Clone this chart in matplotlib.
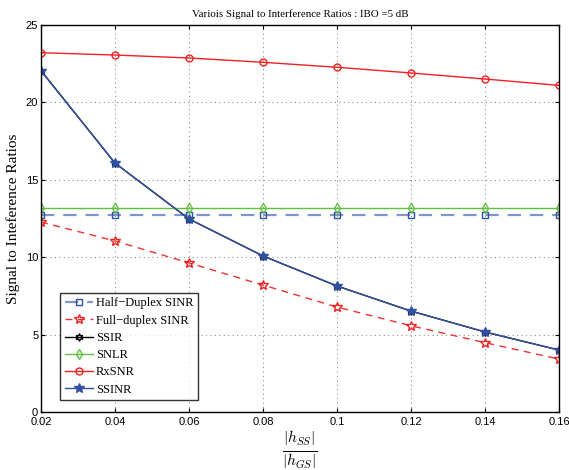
import matplotlib
matplotlib.use("Agg")
import matplotlib.pyplot as plt
import numpy as np

plt.rcParams['mathtext.fontset'] = 'cm'

x = [0.02, 0.04, 0.06, 0.08, 0.10, 0.12, 0.14, 0.16]
half_duplex = [12.75] * 8
full_duplex = [12.27, 11.05, 9.63, 8.20, 6.78, 5.57, 4.48, 3.42]
ssir = [22.05, 16.08, 12.47, 10.08, 8.14, 6.52, 5.17, 4.00]
snlr = [13.18] * 8
rxsnr = [23.21, 23.06, 22.87, 22.59, 22.27, 21.90, 21.51, 21.10]
ssinr = [22.05, 16.08, 12.47, 10.08, 8.14, 6.52, 5.17, 4.00]

xticks = [0.02, 0.04, 0.06, 0.08, 0.1, 0.12, 0.14, 0.16]
xticklabels = ['0.02', '0.04', '0.06', '0.08', '0.1', '0.12', '0.14', '0.16']
yticks = [0, 5, 10, 15, 20, 25]

fig = plt.figure(figsize=(5.69, 4.70), dpi=100)
ax = fig.add_axes([41/569, 58/470, 518/569, 387/470])

blue = '#3050a0'
ms = 4.5
ax.plot(x, half_duplex, linestyle=(0, (6, 4)), color='#8096c8', lw=1.6,
        marker='s', ms=ms, mfc='none', mec=blue, mew=1.0, label='Half\u2212Duplex SINR')
ax.plot(x, full_duplex, linestyle=(0, (5, 4)), color='#f03030', lw=1.0,
        marker='*', ms=ms + 2.5, mfc='none', mec='#f02020', mew=1.0, label='Full\u2212duplex SINR')
ax.plot(x, ssir, '-', color='black', lw=1.0,
        marker=(6, 1, 0), ms=ms + 1, mfc='none', mec='black', mew=1.0, label='SSIR')
ax.plot(x, snlr, '-', color='#60c040', lw=1.0,
        marker='d', ms=ms + 0.5, mfc='none', mec='#60c040', mew=1.0, label='SNLR')
ax.plot(x, rxsnr, '-', color='#f02020', lw=1.0,
        marker='o', ms=ms + 0.5, mfc='none', mec='#f02020', mew=1.0, label='RxSNR')
ax.plot(x, ssinr, '-', color=blue, lw=1.0,
        marker='*', ms=ms + 2.5, mfc=blue, mec=blue, mew=1.0, label='SSINR')

ax.set_xlim(0.02, 0.16)
ax.set_ylim(0, 25)
ax.set_xticks(xticks)
ax.set_xticklabels(xticklabels)
ax.set_yticks(yticks)
ax.tick_params(direction='in', length=3, labelsize=8, top=True, right=True)
ax.tick_params(axis='x', pad=3.5)
ax.tick_params(axis='y', pad=2)
for lab in ax.get_xticklabels() + ax.get_yticklabels():
    lab.set_fontfamily('Liberation Sans')
ax.grid(True, linestyle=(0, (1, 3)), color='#909090', lw=0.8)
for s in ax.spines.values():
    s.set_linewidth(1.0)

ax.set_title('Variois Signal to Interference Ratios : IBO =5 dB',
             fontfamily='Liberation Serif', fontsize=7.8, pad=6)
ax.set_ylabel('Signal to Inteference Ratios', fontfamily='Liberation Serif', fontsize=11)
ax.set_xlabel(r'$\frac{|h_{SS}|}{|h_{GS}|}$', fontsize=16, labelpad=2)

leg = ax.legend(loc='lower left', bbox_to_anchor=(0.037, 0.031),
                prop={'family': 'Liberation Serif', 'size': 9},
                frameon=True, fancybox=False, edgecolor='black',
                handlelength=2.3, handletextpad=0.2, labelspacing=0.42,
                borderpad=0.35, borderaxespad=0)
leg.get_frame().set_linewidth(1.0)

fig.savefig('out.png', dpi=100)
